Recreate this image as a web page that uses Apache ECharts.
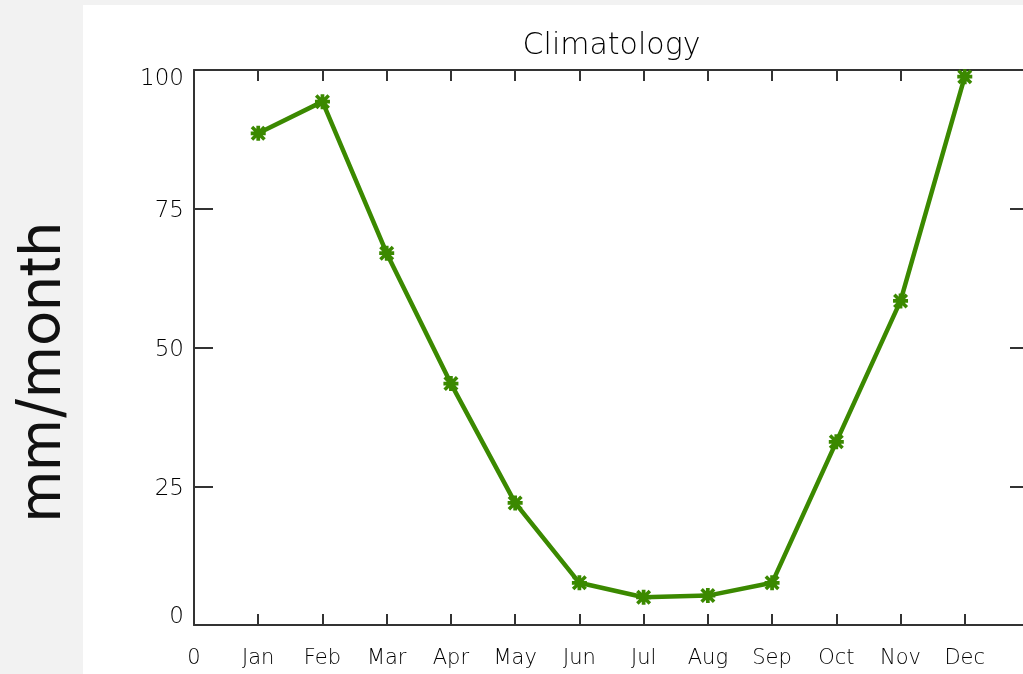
<!DOCTYPE html>
<html>
<head>
<meta charset="utf-8">
<title>Climatology</title>
<script src="https://cdn.jsdelivr.net/npm/echarts@6/dist/echarts.min.js"></script>
<style>
  html, body { margin: 0; padding: 0; background: #f2f2f2; }
  #panel { position: absolute; left: 83px; top: 5px; right: 0; bottom: 0; background: #ffffff; }
  #chart { position: absolute; left: 0; top: 0; width: 1023px; height: 674px; }
</style>
</head>
<body>
<div id="panel"></div>
<div id="chart"></div>
<script>
// Monthly climatology (mm/month)
const monthNames = ['Jan', 'Feb', 'Mar', 'Apr', 'May', 'Jun', 'Jul', 'Aug', 'Sep', 'Oct', 'Nov', 'Dec'];
const monthIndex = [1, 2, 3, 4, 5, 6, 7, 8, 9, 10, 11, 12];
const precip = [88.6, 94.3, 67.0, 43.5, 22.0, 7.6, 5.0, 5.3, 7.6, 33.0, 58.4, 98.8];
const xTickLabels = ['0', 'Jan', 'Feb', 'Mar', 'Apr', 'May', 'Jun', 'Jul', 'Aug', 'Sep', 'Oct', 'Nov', 'Dec', ''];
const yTicks = [0, 25, 50, 75, 100];

const axisColor = '#333333';
const textColor = '#000000';
const lineGreen = '#3b8900';
const labelFont = 'DejaVu Sans';
const labelWeight = 300;

// asterisk-like plot symbol
const starPath = 'path://M4.5,0 H7.5 V4.5 H12 V7.5 H7.5 V12 H4.5 V7.5 H0 V4.5 H4.5 Z ' +
  'M0,2 L2,0 L6,4 L10,0 L12,2 L8,6 L12,10 L10,12 L6,8 L2,12 L0,10 L4,6 Z';

const chart = echarts.init(document.getElementById('chart'), null, { renderer: 'canvas' });

// the plot frame runs past the right edge of the page
const grid = { left: 194, top: 70, width: 835, height: 555, outerBoundsMode: 'none', containLabel: false };

const points = monthIndex.map((m, i) => [m, precip[i]]);

const yRich = (pad) => ({ padding: pad, fontFamily: labelFont, fontSize: 23, fontWeight: labelWeight, color: textColor });

chart.setOption({
  backgroundColor: 'transparent',
  animation: false,
  grid: grid,
  graphic: [
    {
      type: 'text',
      x: grid.left + grid.width / 2,
      y: 46,
      style: {
        text: 'Climatology',
        font: labelWeight + ' 30px "' + labelFont + '"',
        fill: textColor,
        textAlign: 'center',
        textVerticalAlign: 'middle'
      }
    },
    {
      type: 'text',
      x: 42,
      y: 372,
      rotation: Math.PI / 2,
      style: {
        text: 'mm/month',
        font: '59px Inter',
        fill: '#111',
        textAlign: 'center',
        textVerticalAlign: 'middle'
      }
    }
  ],
  xAxis: [
    {
      type: 'value', position: 'bottom', min: 0, max: 13, interval: 1,
      axisLine: { show: true, onZero: false, lineStyle: { color: axisColor, width: 2 } },
      axisTick: { show: true, inside: true, length: 11, lineStyle: { color: axisColor, width: 2 } },
      splitLine: { show: false },
      axisLabel: {
        margin: 23, color: textColor, fontFamily: labelFont, fontSize: 21, fontWeight: labelWeight,
        formatter: v => xTickLabels[v] || ''
      }
    },
    {
      type: 'value', position: 'top', min: 0, max: 13, interval: 1,
      axisLine: { show: true, onZero: false, lineStyle: { color: axisColor, width: 2 } },
      axisTick: { show: true, inside: true, length: 11, lineStyle: { color: axisColor, width: 2 } },
      splitLine: { show: false },
      axisLabel: { show: false }
    }
  ],
  yAxis: [
    {
      type: 'value', position: 'left', min: 0, max: 100, interval: 25,
      axisLine: { show: true, onZero: false, lineStyle: { color: axisColor, width: 2 } },
      axisTick: { show: true, inside: true, length: 19, lineStyle: { color: axisColor, width: 2 } },
      splitLine: { show: false },
      axisLabel: {
        margin: 10, color: textColor, fontFamily: labelFont, fontSize: 23, fontWeight: labelWeight,
        formatter: v => {
          if (v === yTicks[yTicks.length - 1]) return '{top|' + v + '}';
          if (v === yTicks[0]) return '{bot|' + v + '}';
          return '{mid|' + v + '}';
        },
        rich: {
          top: yRich([18, 0, 0, 0]),
          bot: yRich([0, 0, 16, 0]),
          mid: yRich([5, 0, 0, 0])
        }
      }
    },
    {
      type: 'value', position: 'right', min: 0, max: 100, interval: 25,
      axisLine: { show: true, onZero: false, lineStyle: { color: axisColor, width: 2 } },
      axisTick: { show: true, inside: true, length: 19, lineStyle: { color: axisColor, width: 2 } },
      splitLine: { show: false },
      axisLabel: { show: false }
    }
  ],
  series: [
    {
      type: 'line',
      data: points,
      xAxisIndex: 0,
      yAxisIndex: 0,
      symbol: starPath,
      symbolSize: 15,
      showAllSymbol: true,
      lineStyle: { color: lineGreen, width: 4.5 },
      itemStyle: { color: lineGreen },
      clip: false
    }
  ]
});
</script>
</body>
</html>
